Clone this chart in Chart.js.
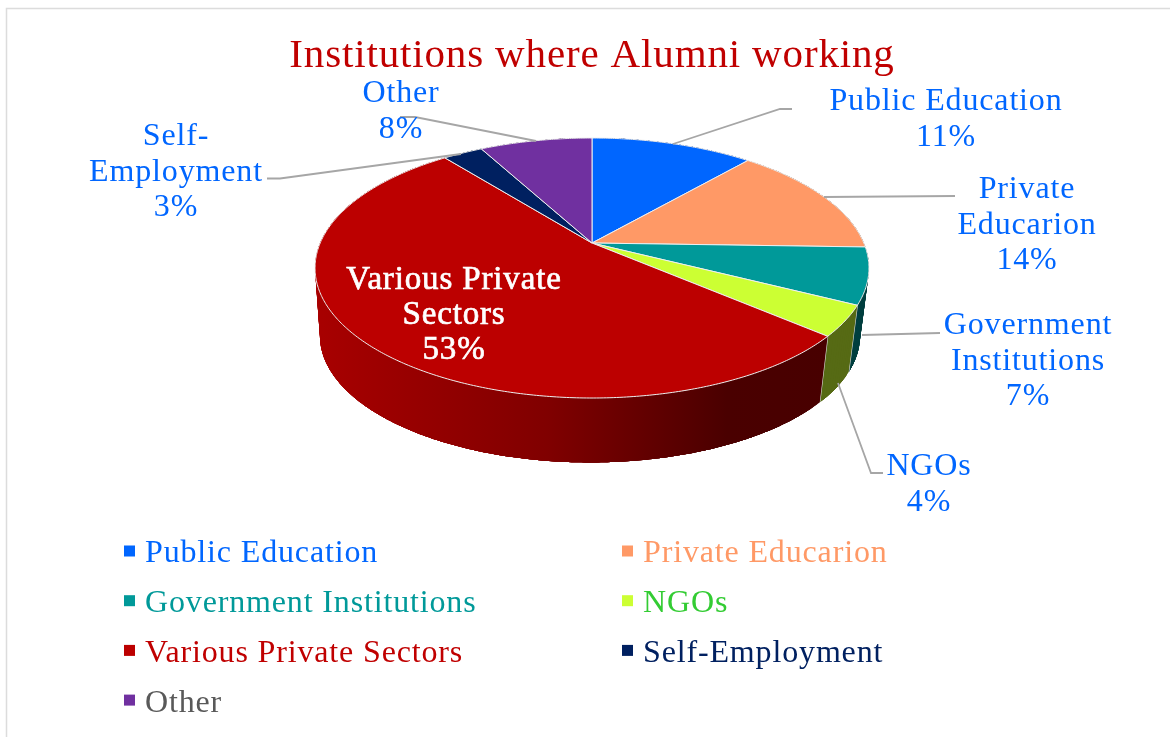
<!DOCTYPE html>
<html><head><meta charset="utf-8">
<style>html,body{margin:0;padding:0;background:#fff;overflow:hidden}canvas{display:block}</style>
<script src="https://cdn.jsdelivr.net/npm/chart.js@4"></script></head>
<body><canvas id="c" width="1170" height="737"></canvas>
<script>
const categories = ['Public Education','Private Educarion','Government Institutions','NGOs','Various Private Sectors','Self-Employment','Other'];
const values = [11.4,14.1,7,3.8,53,2.8,7.9];
const sliceColors = ['#0066FF','#FF9966','#009999','#CCFF33','#BC0000','#002060','#7030A0'];
const wallColors = ['#003080','#804d33','#003F3F','#566A14','#700000','#001030','#381850'];
const legendTextColors = ['#0066FF','#FF9966','#009999','#33CC33','#C00000','#002060','#595959'];
const labelLines = [['Public Education'],['Private','Educarion'],['Government','Institutions'],['NGOs'],['Various Private','Sectors'],['Self-','Employment'],['Other']];
const labelCenters = [[946,102],[1027,190],[1028,326],[929,467],[454,280],[176,137],[401,94]];
const leaders = [
 [[673,144],[780,109],[792,109]],
 [[824,197],[955,196]],
 [[862,335],[940,333]],
 [[838,383],[871,473],[883,473]],
 null,
 [[267,178.5],[280,178.5],[461,154]],
 [[400,117],[415,117],[536,141]]
];
const FONT = '"Liberation Serif"';
const LS = '0.85px';
const P = {cx:592, cy:243, a:271.8, b:125.2, k:0.1923, dropX:-2, drop:68.3, s:0.975};

function proj(ang, lower){
  const x=Math.cos(ang), y=Math.sin(ang), w=1-P.k*y;
  const s=lower?P.s:1;
  return [P.cx+(lower?P.dropX:0)+s*P.a*x/w, P.cy+(lower?P.drop:0)+s*P.b*y/w];
}
function arcPts(a0,a1,lower){
  const n=Math.max(2,Math.ceil((a1-a0)/0.01)), r=[];
  for(let i=0;i<=n;i++) r.push(proj(a0+(a1-a0)*i/n,lower));
  return r;
}
const pie3d = {
  id:'pie3d',
  beforeDraw(chart){
    const c=chart.ctx;
    c.letterSpacing=LS;
    c.save();
    c.strokeStyle='#dcdcdc'; c.lineWidth=1.5;
    c.strokeRect(6.5,8.5,1400,1400);
    c.restore();
  },
  afterUpdate(chart){
    chart.getDatasetMeta(0).data.forEach((el,i)=>{
      el.draw=function(ctx){
        const pts=arcPts(this.startAngle,this.endAngle,false);
        ctx.save();
        ctx.beginPath(); ctx.moveTo(P.cx,P.cy);
        pts.forEach(p=>ctx.lineTo(p[0],p[1]));
        ctx.closePath();
        ctx.fillStyle=this.options.backgroundColor; ctx.fill();
        ctx.strokeStyle='#eeeeee'; ctx.lineWidth=1; ctx.lineJoin='round'; ctx.stroke();
        ctx.restore();
      };
    });
  },
  beforeDatasetsDraw(chart){
    const c=chart.ctx, arcs=chart.getDatasetMeta(0).data;
    const order=arcs.map((e,i)=>i).sort((p,q)=>Math.sin((arcs[p].startAngle+arcs[p].endAngle)/2)-Math.sin((arcs[q].startAngle+arcs[q].endAngle)/2));
    const g=c.createLinearGradient(316,0,830,0);
    g.addColorStop(0,'#A80000'); g.addColorStop(0.45,'#800000'); g.addColorStop(0.8,'#4A0000'); g.addColorStop(1,'#480000');
    order.forEach(i=>{
      const e=arcs[i], top=arcPts(e.startAngle,e.endAngle,false), bot=arcPts(e.startAngle,e.endAngle,true);
      const n=top.length-1;
      c.save();
      c.fillStyle=i===4?g:wallColors[i];
      // overlapping strips, so that neighbouring edges leave no seams
      for(let j=0;j<n;j+=2){
        const k=Math.min(n,j+12);
        c.beginPath();
        c.moveTo(top[j][0],top[j][1]);
        for(let m=j+1;m<=k;m++) c.lineTo(top[m][0],top[m][1]);
        for(let m=k;m>=j;m--) c.lineTo(bot[m][0],bot[m][1]);
        c.closePath(); c.fill();
      }
      if(i===2||i===3){
        c.strokeStyle='#d8d8d8'; c.lineWidth=1.2;
        c.beginPath(); c.moveTo(top[n][0],top[n][1]); c.lineTo(bot[n][0],bot[n][1]); c.stroke();
      }
      c.restore();
    });
  },
  afterDraw(chart){
    const c=chart.ctx, total=values.reduce((s,v)=>s+v,0);
    c.save();
    c.strokeStyle='#a6a6a6'; c.lineWidth=1.8;
    leaders.forEach(l=>{ if(!l)return; c.beginPath(); l.forEach((p,j)=>j?c.lineTo(p[0],p[1]):c.moveTo(p[0],p[1])); c.stroke(); });
    c.textAlign='center'; c.textBaseline='middle';
    values.forEach((v,i)=>{
      const lines=labelLines[i].concat([Math.round(v/total*100)+'%']);
      const white=i===4;
      c.font=(white?'33px ':'32px ')+FONT;
      c.fillStyle=white?'#FFFFFF':'#0066FF';
      c.strokeStyle='#FFFFFF'; c.lineWidth=0.7;
      lines.forEach((t,j)=>{
        const y=labelCenters[i][1]+j*35.4;
        c.fillText(t,labelCenters[i][0],y);
        if(white) c.strokeText(t,labelCenters[i][0],y);
      });
    });
    c.textAlign='left';
    c.font='32px '+FONT;
    categories.forEach((t,i)=>{
      const col=i%2, row=Math.floor(i/2);
      const x=col?622:124, y=551+row*49.7;
      c.fillStyle=sliceColors[i]; c.fillRect(x,y-5.5,11,11);
      c.fillStyle=legendTextColors[i]; c.fillText(t,x+21,y+3);
    });
    c.restore();
  }
};
new Chart(document.getElementById('c'),{
  type:'pie',
  data:{labels:categories,datasets:[{data:values,backgroundColor:sliceColors}]},
  plugins:[pie3d],
  options:{
    responsive:false,animation:false,
    layout:{padding:{left:14}},
    plugins:{
      legend:{display:false},tooltip:{enabled:false},
      title:{display:true,text:'Institutions where Alumni working',color:'#C00000',
        font:{family:FONT,size:41,weight:'normal',lineHeight:1.2},padding:{top:32,bottom:6}}
    }
  }
});
</script></body></html>
